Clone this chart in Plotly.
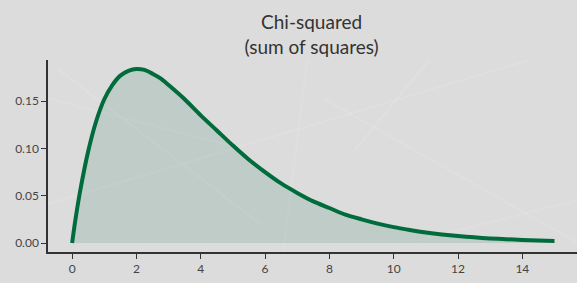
import plotly.graph_objects as go

# Values (density of the curve)
x_vals = [0, 0.1, 0.25, 0.5, 0.75, 1, 1.25, 1.5, 1.75, 2, 2.25, 2.5, 2.75, 3, 3.5, 4,
          4.5, 5, 5.5, 6, 6.5, 7, 7.5, 8, 8.5, 9, 9.5, 10, 10.5, 11, 11.5, 12, 12.5,
          13, 13.5, 14, 14.5, 15]
y_vals = [0.0, 0.024, 0.055, 0.097, 0.129, 0.152, 0.167, 0.177, 0.182, 0.184, 0.183,
          0.179, 0.174, 0.167, 0.152, 0.135, 0.119, 0.103, 0.088, 0.075, 0.063,
          0.053, 0.044, 0.037, 0.030, 0.025, 0.0205, 0.0168, 0.0138, 0.0112, 0.0091,
          0.0074, 0.0060, 0.0049, 0.0040, 0.0032, 0.0026, 0.0021]
x_ticks = [0, 2, 4, 6, 8, 10, 12, 14]
y_ticks = [0.00, 0.05, 0.10, 0.15]
y_tick_labels = ["0.00", "0.05", "0.10", "0.15"]

fig = go.Figure()
fig.add_trace(go.Scatter(
    x=x_vals, y=y_vals, mode="lines",
    line=dict(color="#006b3c", width=4, shape="spline", smoothing=0.8),
    fill="tozeroy", fillcolor="rgba(0,100,60,0.13)", hoverinfo="skip"))

# faint decorative background lines (paper coords)
bg_lines = [
    (0.0, 0.25, 0.91, 1.0),
    (0.02, 0.95, 0.40, 0.15),
    (0.49, 1.0, 0.445, 0.0),
    (0.72, 1.0, 0.58, 0.53),
    (0.52, 0.80, 1.0, 0.05),
    (0.70, 0.06, 1.0, 0.27),
    (0.0, 0.80, 0.35, 0.55),
]
shapes = []
for x0, y0, x1, y1 in bg_lines:
    shapes.append(dict(type="line", xref="paper", yref="paper", x0=x0, y0=y0, x1=x1, y1=y1,
                       line=dict(color="rgba(255,255,255,0.10)", width=2), layer="below"))

fig.update_layout(
    width=577, height=283,
    margin=dict(l=48, r=0, t=60, b=31, autoexpand=False),
    paper_bgcolor="#dcdcdc", plot_bgcolor="rgba(0,0,0,0)",
    showlegend=False,
    font=dict(family="Lato, sans-serif", color="#444"),
    title=dict(text="Chi-squared<br>(sum of squares)", x=0.54, xanchor="center",
               y=0.897, yanchor="middle", yref="container", automargin=False,
               font=dict(size=19, color="#333")),
    shapes=shapes,
    xaxis=dict(range=[-0.75, 15.7], tickvals=x_ticks, showgrid=False, zeroline=False,
               showline=True, linecolor="#333", linewidth=1.5, ticks="outside",
               ticklen=5, tickcolor="#333", tickfont=dict(size=12, color="#444"),
               automargin=False),
    yaxis=dict(range=[-0.0095, 0.1935], tickvals=y_ticks, ticktext=y_tick_labels,
               showgrid=False, zeroline=False, showline=True, linecolor="#333",
               linewidth=1.5, ticks="outside", ticklen=5, tickcolor="#333",
               tickfont=dict(size=12, color="#444"), automargin=False),
)

fig.write_html("out.html", config={"displayModeBar": False},
               post_script="document.body.style.margin='0';document.body.style.overflow='hidden';")
